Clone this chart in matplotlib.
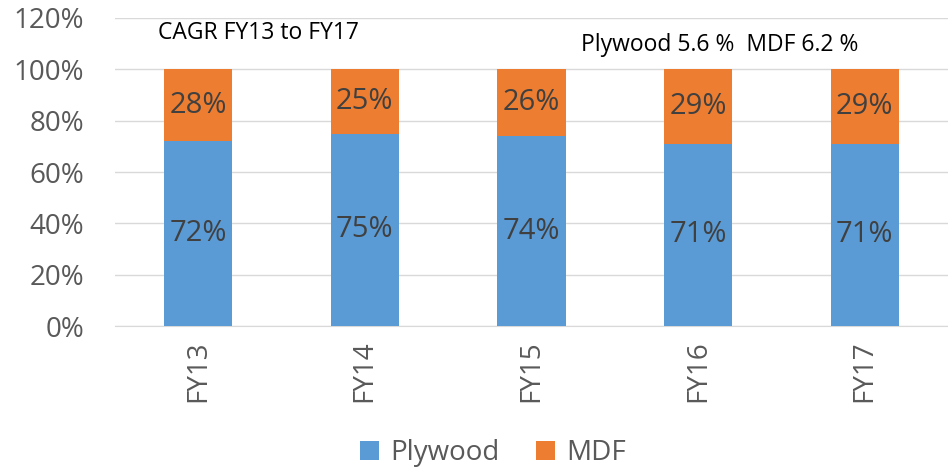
import numpy as np
import matplotlib.pyplot as plt
from matplotlib.ticker import FuncFormatter

# ---- DATA ---- #
years = ["FY13", "FY14", "FY15", "FY16", "FY17"]
plywood = [72, 75, 74, 71, 71]
mdf = [28, 25, 26, 29, 29]

plt.rcParams["font.family"] = ["Open Sans", "DejaVu Sans"]

# ---- PLOT ---- #
fig = plt.figure(figsize=(9.48, 4.72), dpi=100)
ax = fig.add_axes([0.121, 0.309, 0.879, 0.653])

x = np.arange(len(years))
blue = "#5b9bd5"
orange = "#ed7d31"
ax.bar(x, plywood, width=0.41, color=blue, label="Plywood", zorder=3)
ax.bar(x, mdf, width=0.41, bottom=plywood, color=orange, label="MDF", zorder=3)

for xi, p, m in zip(x, plywood, mdf):
    ax.text(xi, p / 2, f"{p}%", ha="center", va="center", fontsize=21, color="#404040", zorder=4)
    ax.text(xi, p + m / 2, f"{m}%", ha="center", va="center", fontsize=21, color="#404040", zorder=4)

ax.set_xlim(-0.5, len(years) - 0.5)
ax.set_ylim(0, 120)
ax.set_yticks(range(0, 121, 20))
ax.yaxis.set_major_formatter(FuncFormatter(lambda v, _: f"{v:.0f}%"))
ax.set_xticks(x)
ax.set_xticklabels(years, rotation=90)
ax.tick_params(axis="both", length=0, labelsize=20, labelcolor="#595959")
ax.tick_params(axis="x", pad=10)
ax.tick_params(axis="y", pad=22)
ax.grid(axis="y", color="#d9d9d9", linewidth=1, zorder=0)
for s in ["top", "right", "left"]:
    ax.spines[s].set_visible(False)
ax.spines["bottom"].set_color("#d9d9d9")

ax.text(-0.24, 114, "CAGR FY13 to FY17", ha="left", va="center", fontsize=16.5, color="black")
ax.text(2.30, 109.5, "Plywood 5.6 %  MDF 6.2 %", ha="left", va="center", fontsize=16.5, color="black",
        bbox=dict(facecolor="white", edgecolor="none", pad=6))

fig.legend(loc="center", bbox_to_anchor=(0.52, 0.04), ncol=2, frameon=False,
           fontsize=20, labelcolor="#595959", handlelength=0.7, handleheight=0.7,
           columnspacing=1.3, handletextpad=0.4)

plt.savefig("out.png", dpi=100)
